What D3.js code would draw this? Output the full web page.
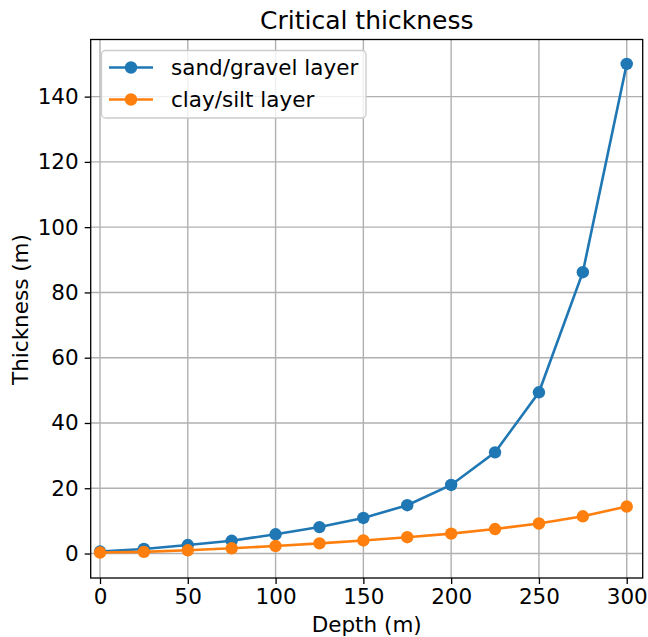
<!DOCTYPE html>
<html>
<head>
<meta charset="utf-8">
<script src="https://cdn.jsdelivr.net/npm/d3@7"></script>
<style>
  body { margin: 0; background: #fff; }
  svg { font-family: "DejaVu Sans", sans-serif; }
</style>
</head>
<body>
<div id="chart"></div>
<script>
const FRAME_WIDTH = 648;
const FRAME_HEIGHT = 637;
const PLOT = {left: 90.7, right: 642.7, top: 39.5, bottom: 578};
const FONT = "21.5px";

// data
const DEPTHS = [0, 25, 50, 75, 100, 125, 150, 175, 200, 225, 250, 275, 300];
const SAND_GRAVEL = [0.6, 1.4, 2.6, 3.9, 5.9, 8.1, 10.9, 14.8, 21.0, 31.0, 49.4, 86.2, 150];
const CLAY_SILT = [0.3, 0.5, 1.0, 1.6, 2.3, 3.1, 4.0, 5.0, 6.1, 7.5, 9.2, 11.4, 14.4];
const X_TICKS = [0, 50, 100, 150, 200, 250, 300];
const Y_TICKS = [0, 20, 40, 60, 80, 100, 120, 140];
const SERIES_NAMES = ["sand/gravel layer", "clay/silt layer"];
const COLORS = ["#1f77b4", "#ff7f0e"];

const SVG = d3.select("#chart")
  .append("svg")
    .attr("width", FRAME_WIDTH)
    .attr("height", FRAME_HEIGHT);

const X_SCALE = d3.scaleLinear()
  .domain([-5.3, 309.1])
  .range([PLOT.left, PLOT.right]);

const Y_SCALE = d3.scaleLinear()
  .domain([-7.5, 157.5])
  .range([PLOT.bottom, PLOT.top]);

// grid
SVG.append("g")
  .selectAll("line")
  .data(X_TICKS)
  .enter()
  .append("line")
    .attr("x1", d => X_SCALE(d)).attr("x2", d => X_SCALE(d))
    .attr("y1", PLOT.top).attr("y2", PLOT.bottom)
    .attr("stroke", "#b0b0b0").attr("stroke-width", 1.4);

SVG.append("g")
  .selectAll("line")
  .data(Y_TICKS)
  .enter()
  .append("line")
    .attr("x1", PLOT.left).attr("x2", PLOT.right)
    .attr("y1", d => Y_SCALE(d)).attr("y2", d => Y_SCALE(d))
    .attr("stroke", "#b0b0b0").attr("stroke-width", 1.4);

// axes
const xAxis = SVG.append("g")
  .attr("transform", "translate(0," + PLOT.bottom + ")")
  .call(d3.axisBottom(X_SCALE).tickValues(X_TICKS).tickSize(6).tickPadding(5).tickSizeOuter(0));

const yAxis = SVG.append("g")
  .attr("transform", "translate(" + PLOT.left + ",0)")
  .call(d3.axisLeft(Y_SCALE).tickValues(Y_TICKS).tickSize(6).tickPadding(6).tickSizeOuter(0));

[xAxis, yAxis].forEach(ax => {
  ax.select(".domain").remove();
  ax.selectAll("line").attr("stroke", "#000").attr("stroke-width", 1.3);
  ax.selectAll("text")
    .attr("font-family", "DejaVu Sans, sans-serif")
    .attr("font-size", FONT)
    .attr("fill", "#000");
});

// frame
SVG.append("rect")
  .attr("x", PLOT.left).attr("y", PLOT.top)
  .attr("width", PLOT.right - PLOT.left)
  .attr("height", PLOT.bottom - PLOT.top)
  .attr("fill", "none").attr("stroke", "#000").attr("stroke-width", 1.3);

// series
const SERIES = [SAND_GRAVEL, CLAY_SILT];
const line = d3.line()
  .x((d, i) => X_SCALE(DEPTHS[i]))
  .y(d => Y_SCALE(d));

SERIES.forEach((vals, k) => {
  SVG.append("path")
    .datum(vals)
    .attr("d", line)
    .attr("fill", "none")
    .attr("stroke", COLORS[k])
    .attr("stroke-width", 2.6);

  SVG.append("g")
    .selectAll("circle")
    .data(vals)
    .enter()
    .append("circle")
      .attr("cx", (d, i) => X_SCALE(DEPTHS[i]))
      .attr("cy", d => Y_SCALE(d))
      .attr("r", 6.2)
      .attr("fill", COLORS[k]);
});

// legend
const legend = SVG.append("g");
legend.append("rect")
  .attr("x", 101.5).attr("y", 50.5)
  .attr("width", 264.5).attr("height", 67.5)
  .attr("rx", 4)
  .attr("fill", "#fff").attr("fill-opacity", 0.8)
  .attr("stroke", "#cccccc").attr("stroke-width", 1.3);

SERIES_NAMES.forEach((name, k) => {
  const y = 67.5 + k * 32;
  legend.append("line")
    .attr("x1", 109).attr("x2", 153)
    .attr("y1", y).attr("y2", y)
    .attr("stroke", COLORS[k]).attr("stroke-width", 2.6);
  legend.append("circle")
    .attr("cx", 131).attr("cy", y).attr("r", 6.2)
    .attr("fill", COLORS[k]);
  legend.append("text")
    .attr("x", 171).attr("y", y)
    .attr("dy", "0.35em")
    .attr("font-size", FONT)
    .attr("fill", "#000")
    .text(name);
});

// titles
SVG.append("text")
  .attr("x", (PLOT.left + PLOT.right) / 2)
  .attr("y", 29)
  .attr("text-anchor", "middle")
  .attr("font-size", "25px")
  .text("Critical thickness");

SVG.append("text")
  .attr("x", (PLOT.left + PLOT.right) / 2)
  .attr("y", 632)
  .attr("text-anchor", "middle")
  .attr("font-size", FONT)
  .text("Depth (m)");

SVG.append("text")
  .attr("transform", "translate(20," + 309.5 + ") rotate(-90)")
  .attr("text-anchor", "middle")
  .attr("dy", "0.35em")
  .attr("font-size", FONT)
  .text("Thickness (m)");
</script>
</body>
</html>
